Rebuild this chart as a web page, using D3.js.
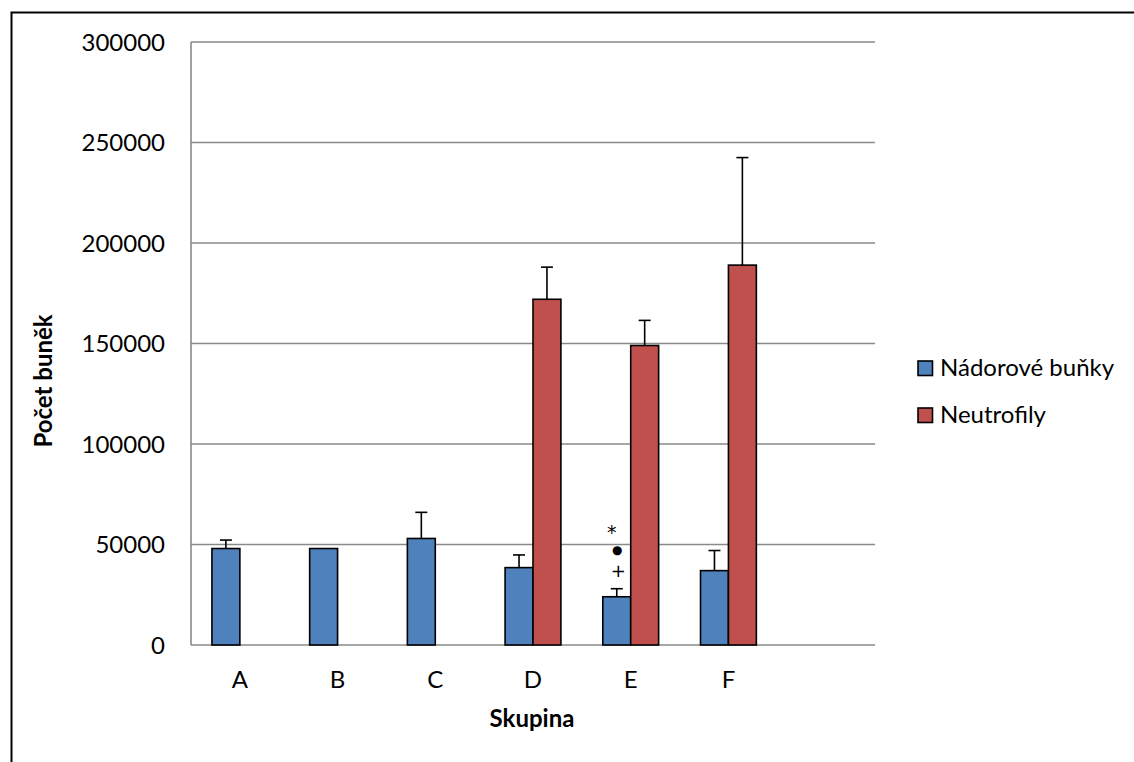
<!DOCTYPE html>
<html>
<head>
<meta charset="utf-8">
<script src="https://cdn.jsdelivr.net/npm/d3@7"></script>
<style>
  html, body { margin: 0; padding: 0; background: #fff; }
  svg { display: block; font-family: Lato, "Open Sans", sans-serif; }
</style>
</head>
<body>
<svg id="chart" width="1134" height="762"></svg>
<script>
// Groups on the category axis (the last slot is left empty)
const categories = ["A", "B", "C", "D", "E", "F", ""];
// Tumour cell counts and their error (SD) per group
const tumorCells = [48000, 48000, 53000, 38500, 24000, 37000, null];
const tumorErr   = [4200, 0, 13000, 6300, 4000, 10000, null];
// Neutrophil counts and their error per group
const neutrophils   = [null, null, null, 172000, 149000, 189000, null];
const neutrophilErr = [null, null, null, 16000, 12500, 53500, null];
// Series names shown in the legend
const seriesNames = ["Nádorové buňky", "Neutrofily"];
// Y axis ticks
const yTicks = [0, 50000, 100000, 150000, 200000, 250000, 300000];
// Significance marks above group E tumour cells (top to bottom)
const marks = ["*", "●", "+"];
const markGroup = "E";

const colors = ["#4F81BD", "#C0504D"];
const svg = d3.select("#chart");

// chart frame
svg.append("path")
  .attr("d", "M11.5,762 L11.5,12.5 L1134,12.5")
  .attr("fill", "none").attr("stroke", "#000").attr("stroke-width", 2);

const plot = { left: 191, right: 875, top: 42, bottom: 645 };

const x = d3.scaleBand().domain(categories)
  .range([plot.left, plot.right]).paddingInner(0).paddingOuter(0);
const y = d3.scaleLinear().domain([0, 300000]).range([plot.bottom, plot.top]);

// bars: 2 series with a 150% gap between groups
const groupW = x.bandwidth() * 2 / 3.5;
const xs = d3.scaleBand().domain([0, 1]).range([0, groupW]);

// gridlines
svg.append("g").selectAll("line").data(yTicks).join("line")
  .attr("x1", plot.left).attr("x2", plot.right)
  .attr("y1", d => y(d)).attr("y2", d => y(d))
  .attr("stroke", "#8a8a8a").attr("stroke-width", 1.6);

// y axis line
svg.append("line")
  .attr("x1", plot.left).attr("x2", plot.left)
  .attr("y1", plot.top).attr("y2", plot.bottom)
  .attr("stroke", "#8a8a8a").attr("stroke-width", 1.6);

// y tick labels
const fmt = d3.format("d");
svg.append("g").selectAll("text").data(yTicks).join("text")
  .attr("x", 165).attr("y", d => y(d)).attr("dy", "0.36em")
  .attr("text-anchor", "end").attr("font-size", 24).attr("fill", "#000")
  .text(d => fmt(d));

// x tick labels
svg.append("g").selectAll("text").data(categories).join("text")
  .attr("x", d => x(d) + x.bandwidth() / 2).attr("y", 688)
  .attr("text-anchor", "middle").attr("font-size", 24).attr("fill", "#000")
  .text(d => d);

const series = [
  { vals: tumorCells, errs: tumorErr },
  { vals: neutrophils, errs: neutrophilErr }
];

series.forEach((s, si) => {
  const rows = categories.map((c, i) => ({ c, v: s.vals[i], e: s.errs[i] }))
    .filter(r => r.v != null);
  const g = svg.append("g");
  const bx = r => x(r.c) + x.bandwidth() / 2 - groupW / 2 + xs(si);
  g.selectAll("rect").data(rows).join("rect")
    .attr("x", bx).attr("width", xs.bandwidth())
    .attr("y", r => y(r.v)).attr("height", r => y(0) - y(r.v))
    .attr("fill", colors[si]).attr("stroke", "#000").attr("stroke-width", 1.6);

  // error bars (upper only)
  const eb = g.selectAll("g.err").data(rows.filter(r => r.e > 0)).join("g").attr("class", "err");
  eb.append("line")
    .attr("x1", r => bx(r) + xs.bandwidth() / 2).attr("x2", r => bx(r) + xs.bandwidth() / 2)
    .attr("y1", r => y(r.v)).attr("y2", r => y(r.v + r.e))
    .attr("stroke", "#000").attr("stroke-width", 1.6);
  eb.append("line")
    .attr("x1", r => bx(r) + xs.bandwidth() / 2 - 6).attr("x2", r => bx(r) + xs.bandwidth() / 2 + 6)
    .attr("y1", r => y(r.v + r.e)).attr("y2", r => y(r.v + r.e))
    .attr("stroke", "#000").attr("stroke-width", 1.6);
});

// significance marks above group E tumour bar
{
  const i = categories.indexOf(markGroup);
  const cx = x(markGroup) + x.bandwidth() / 2 - groupW / 2 + xs(0) + xs.bandwidth() / 2;
  const top = y(tumorCells[i] + tumorErr[i]);
  const g = svg.append("g").attr("fill", "#000").attr("font-family", "'DejaVu Sans', sans-serif")
    .attr("text-anchor", "middle");
  g.append("text").attr("x", cx - 5).attr("y", top - 50)
    .attr("font-size", 19).text(marks[0]);
  g.append("text").attr("x", cx + 0.6).attr("y", top - 35)
    .attr("font-size", 12).text(marks[1]);
  g.append("text").attr("x", cx + 1.6).attr("y", top - 12)
    .attr("font-size", 18).text(marks[2]);
}

// axis titles
svg.append("text")
  .attr("x", 532).attr("y", 727).attr("text-anchor", "middle")
  .attr("font-size", 24).attr("font-weight", "bold").text("Skupina");
svg.append("text")
  .attr("transform", "translate(52,381) rotate(-90)")
  .attr("text-anchor", "middle")
  .attr("font-size", 24).attr("font-weight", "bold").text("Počet buněk");

// legend
const leg = svg.append("g").selectAll("g").data(seriesNames).join("g")
  .attr("transform", (d, i) => `translate(918,${361 + i * 47})`);
leg.append("rect").attr("width", 14.5).attr("height", 14.5)
  .attr("fill", (d, i) => colors[i]).attr("stroke", "#000").attr("stroke-width", 1.6);
leg.append("text").attr("x", 22).attr("y", 14.5)
  .attr("font-size", 24).attr("fill", "#000").text(d => d);
</script>
</body>
</html>
